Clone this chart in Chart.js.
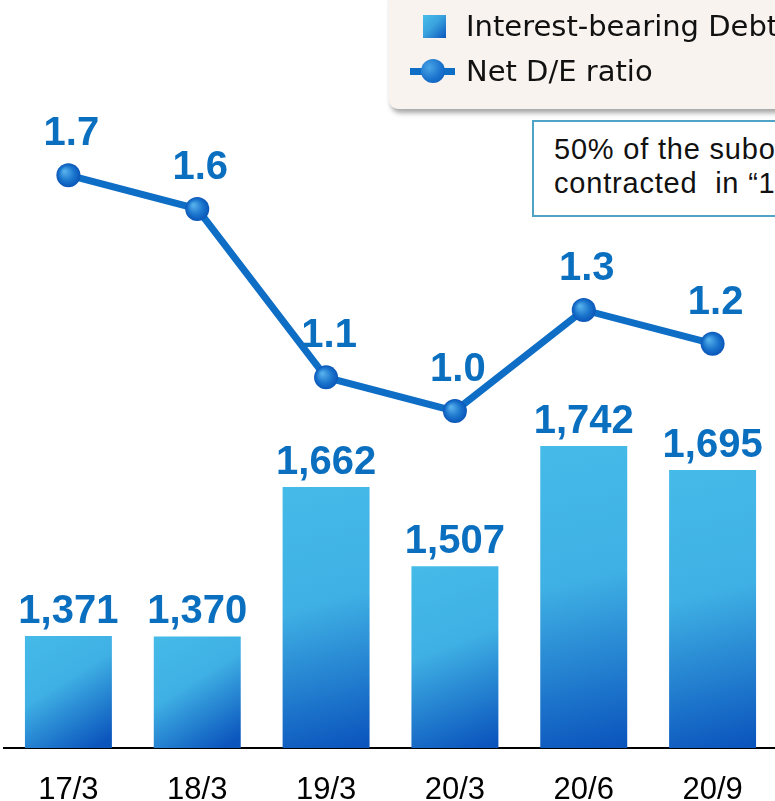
<!DOCTYPE html>
<html>
<head>
<meta charset="utf-8">
<script src="https://cdn.jsdelivr.net/npm/chart.js@4/dist/chart.umd.min.js"></script>
<style>
  html, body { margin: 0; padding: 0; background: #fff; overflow: hidden; }
  #wrap { position: relative; width: 775px; height: 801px; overflow: hidden; }
  #chartBox { position: absolute; left: 0; top: 0; width: 777px; height: 801px; }
  .legend {
    position: absolute; left: 389px; top: -12px; width: 430px; height: 121px;
    background: #f9f3ef; border-radius: 9px;
    box-shadow: 2px 4px 5px rgba(0, 0, 0, 0.35);
    font-family: "DejaVu Sans", Verdana, sans-serif; font-size: 29px; color: #111;
  }
  .legend .row { position: absolute; left: 77px; white-space: nowrap; }
  .legend .sq {
    position: absolute; left: 34px; top: 27px; width: 23px; height: 23px;
    background: linear-gradient(135deg, #48bdea 0%, #3aa3de 45%, #0b55bd 100%);
  }
  .legend .ln { position: absolute; left: 21px; top: 80px; width: 45px; height: 7px; background: #0e6ec5; }
  .legend .dot {
    position: absolute; left: 32px; top: 71px; width: 24px; height: 24px; border-radius: 50%;
    background: radial-gradient(circle at 35% 35%, #4aa4e6 0%, #1a73cc 55%, #0a55b8 100%);
  }
  .note {
    position: absolute; left: 532px; top: 120px; width: 400px; height: 97px;
    border: 2px solid #4ea3c6; background: #fff;
    font-family: "Liberation Sans", Arial, sans-serif; font-size: 29px; color: #111;
    letter-spacing: 0.8px;
    line-height: 34px; padding: 10px 0 0 20px; box-sizing: border-box; white-space: nowrap;
  }
</style>
</head>
<body>
<div id="wrap">
  <div id="chartBox"><canvas id="chart"></canvas></div>
  <div class="note">50% of the subordinated loan<br>contracted&nbsp; in “19/3” is regarded as equity</div>
  <div class="legend">
    <div class="sq"></div>
    <div class="row" style="top:21px">Interest-bearing Debt</div>
    <div class="ln"></div>
    <div class="dot"></div>
    <div class="row" style="top:66px">Net D/E ratio</div>
  </div>
</div>
<script>
const periods = ["17/3", "18/3", "19/3", "20/3", "20/6", "20/9"];
const debtValues = [1371, 1370, 1662, 1507, 1742, 1695];
const deRatioValues = [1.7, 1.6, 1.1, 1.0, 1.3, 1.2];

const labelBlue = "#0b6fc0";
const lineBlue = "#0e6ec5";
const barShare = 0.675;

const allFinite = (...values) => values.every((value) => Number.isFinite(value));

const barGradient = (context) => {
  const { chart, dataIndex, raw } = context;
  const xScale = chart.scales.x;
  const yScale = chart.scales.yDebt;
  if (!xScale || !yScale || dataIndex == null) {
    return "#3aa6e0";
  }
  const center = xScale.getPixelForValue(dataIndex);
  const half = (xScale.width / periods.length) * barShare / 2;
  const top = yScale.getPixelForValue(raw);
  const bottom = yScale.getPixelForValue(yScale.min);
  if (!allFinite(center, half, top, bottom)) {
    return "#3aa6e0";
  }
  const gradient = chart.ctx.createLinearGradient(center - half, top, center + half * 0.6, bottom);
  gradient.addColorStop(0, "#45bbe9");
  gradient.addColorStop(0.45, "#3fb0e4");
  gradient.addColorStop(1, "#0b55bd");
  return gradient;
};

const pointGradient = (context) => {
  const { chart, dataIndex, raw } = context;
  const xScale = chart.scales.x;
  const yScale = chart.scales.yRatio;
  if (!xScale || !yScale || dataIndex == null) {
    return lineBlue;
  }
  const x = xScale.getPixelForValue(dataIndex);
  const y = yScale.getPixelForValue(raw);
  if (!allFinite(x, y)) {
    return lineBlue;
  }
  const gradient = chart.ctx.createRadialGradient(x - 4, y - 4, 1, x, y, 12);
  gradient.addColorStop(0, "#55aeea");
  gradient.addColorStop(0.6, "#1a74cc");
  gradient.addColorStop(1, "#0a56b8");
  return gradient;
};

const valueLabels = {
  id: "valueLabels",
  afterDatasetsDraw(chart) {
    const { ctx } = chart;
    ctx.save();
    ctx.fillStyle = labelBlue;
    ctx.textAlign = "center";
    ctx.textBaseline = "alphabetic";
    ctx.font = "bold 40px 'Liberation Sans', Arial, sans-serif";

    chart.getDatasetMeta(1).data.forEach((bar, index) => {
      ctx.fillText(debtValues[index].toLocaleString("en-US"), bar.x, bar.y - 13);
    });
    chart.getDatasetMeta(0).data.forEach((point, index) => {
      ctx.fillText(deRatioValues[index].toFixed(1), point.x + 3, point.y - 30);
    });
    ctx.restore();
  },
};

new Chart(document.getElementById("chart"), {
  data: {
    labels: periods,
    datasets: [
      {
        type: "line",
        label: "Net D/E ratio",
        data: deRatioValues,
        yAxisID: "yRatio",
        borderColor: lineBlue,
        borderWidth: 7,
        pointRadius: 12,
        pointHoverRadius: 12,
        pointBorderWidth: 0,
        pointBackgroundColor: pointGradient,
        tension: 0,
        clip: false,
        order: 0,
      },
      {
        type: "bar",
        label: "Interest-bearing Debt",
        data: debtValues,
        yAxisID: "yDebt",
        backgroundColor: barGradient,
        barPercentage: barShare,
        categoryPercentage: 1,
        order: 1,
      },
    ],
  },
  options: {
    responsive: true,
    maintainAspectRatio: false,
    animation: false,
    layout: { autoPadding: false, padding: { left: 4, right: 0, top: 0, bottom: 0 } },
    plugins: {
      legend: { display: false },
      tooltip: { enabled: false },
    },
    scales: {
      x: {
        grid: { display: false, drawTicks: false },
        border: { display: true, color: "#000", width: 2 },
        ticks: {
          color: "#000",
          padding: 24,
          font: { family: "'Liberation Sans', Arial, sans-serif", size: 31 },
        },
        afterFit(scale) {
          scale.height = 53;
        },
      },
      yDebt: {
        display: false,
        position: "left",
        min: 1152,
        max: 2613,
      },
      yRatio: {
        display: false,
        position: "right",
        min: 0,
        max: 2.22,
      },
    },
  },
  plugins: [valueLabels],
});
</script>
</body>
</html>
